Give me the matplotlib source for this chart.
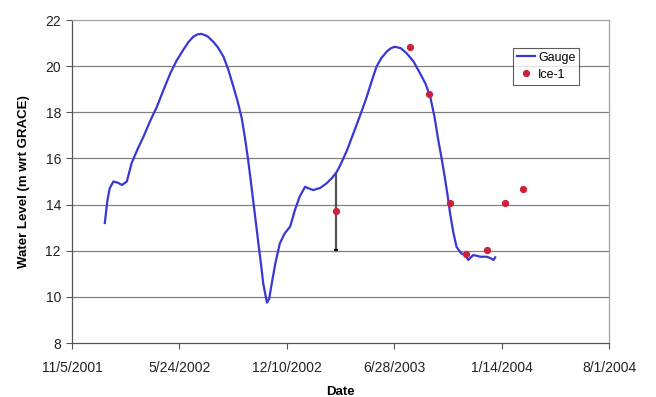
import matplotlib
matplotlib.use("Agg")
import matplotlib.pyplot as plt

plt.rcParams['font.family'] = ['Liberation Sans', 'DejaVu Sans']

# Days since 11/5/2001
gauge_days = [61, 64, 66, 70, 77, 85, 93, 102, 111, 122, 133, 145, 158, 170, 183, 195, 207,
              217, 226, 234, 241, 252, 263, 272, 282, 291, 300, 308, 316, 322, 328, 333, 338,
              343, 347, 352, 356, 360, 363, 367, 372, 379, 387, 396, 406, 410, 415, 424, 434,
              441, 449, 462, 474, 484, 493, 499, 512, 524, 537, 549, 558, 567, 576, 586, 594,
              601, 612, 623, 636, 648, 658, 667, 675, 682, 689, 695, 700, 704, 710, 716, 724,
              732, 738, 747, 754, 760, 766, 772, 779, 785, 788]
gauge_vals = [13.2, 13.8, 14.2, 14.7, 15.0, 14.95, 14.85, 15.0, 15.8, 16.4, 16.94, 17.6, 18.24,
              18.95, 19.69, 20.25, 20.7, 21.05, 21.28, 21.38, 21.4, 21.3, 21.06, 20.8, 20.41,
              19.85, 19.15, 18.5, 17.75, 16.9, 15.93, 15.0, 14.05, 13.1, 12.32, 11.4, 10.59,
              10.1, 9.75, 9.9, 10.59, 11.5, 12.32, 12.75, 13.04, 13.35, 13.76, 14.35, 14.77,
              14.7, 14.63, 14.72, 14.92, 15.15, 15.42, 15.68, 16.35, 17.09, 17.9, 18.68, 19.35,
              19.98, 20.35, 20.63, 20.78, 20.84, 20.78, 20.56, 20.2, 19.69, 19.25, 18.68, 17.8,
              16.8, 15.9, 15.06, 14.3, 13.62, 12.8, 12.17, 11.9, 11.81, 11.6, 11.81, 11.78,
              11.74, 11.74, 11.74, 11.68, 11.6, 11.71]

ice_days = [492, 629, 665, 703, 734, 772, 806, 840]
ice_vals = [13.72, 20.84, 18.79, 14.08, 11.86, 12.03, 14.05, 14.66]

bar_day = 492
bar_low = 12.05
bar_high = 15.38

xtick_days = [0, 200, 400, 600, 800, 1000]
xtick_labels = ['11/5/2001', '5/24/2002', '12/10/2002', '6/28/2003', '1/14/2004', '8/1/2004']
ytick_vals = [8, 10, 12, 14, 16, 18, 20, 22]

fig = plt.figure(figsize=(6.56, 3.97), dpi=100)
ax = fig.add_axes([0.1098, 0.136, 0.8186, 0.8136])

for y in ytick_vals[1:-1]:
    ax.axhline(y, color='#808080', lw=0.9, zorder=0)

ax.vlines(bar_day, bar_low, bar_high, color='#555555', lw=1.6, zorder=2)
ax.plot([bar_day - 2, bar_day + 2], [bar_low, bar_low], color='black', lw=1.6, zorder=2)

ax.plot(gauge_days, gauge_vals, color='#3838D4', lw=1.6, label='Gauge', zorder=3)
ax.plot(ice_days, ice_vals, linestyle='none', marker='o', markersize=4.2,
        color='#D0203A', label='Ice-1', zorder=4)

ax.set_xlim(0, 1000)
ax.set_ylim(8, 22)
ax.set_xticks(xtick_days)
ax.set_xticklabels(xtick_labels, fontsize=10, color='#222222')
ax.set_yticks(ytick_vals)
ax.set_yticklabels([str(v) for v in ytick_vals], fontsize=10, color='#222222')
ax.tick_params(axis='both', direction='out', length=4, width=0.8, color='#555555')
ax.tick_params(axis='x', pad=9)
ax.tick_params(axis='y', pad=4)

ax.spines['left'].set_color('#555555')
ax.spines['bottom'].set_color('#555555')
ax.spines['top'].set_color('#a0a0a0')
ax.spines['right'].set_color('#a0a0a0')
for s in ax.spines.values():
    s.set_linewidth(0.9)

ax.set_xlabel('Date', fontsize=9.5, fontweight='bold')
ax.set_ylabel('Water Level (m wrt GRACE)', fontsize=9.5, fontweight='bold')
ax.xaxis.set_label_coords(0.5, -0.133)
ax.yaxis.set_label_coords(-0.078, 0.5)

leg = ax.legend(loc='upper left', bbox_to_anchor=(0.821, 0.913), fontsize=9,
                frameon=True, fancybox=False, borderaxespad=0, handlelength=1.5,
                borderpad=0.3, labelspacing=0.4, handletextpad=0.2)
leg.get_frame().set_edgecolor('#333333')
leg.get_frame().set_linewidth(0.8)

fig.savefig('out.png', dpi=100)
